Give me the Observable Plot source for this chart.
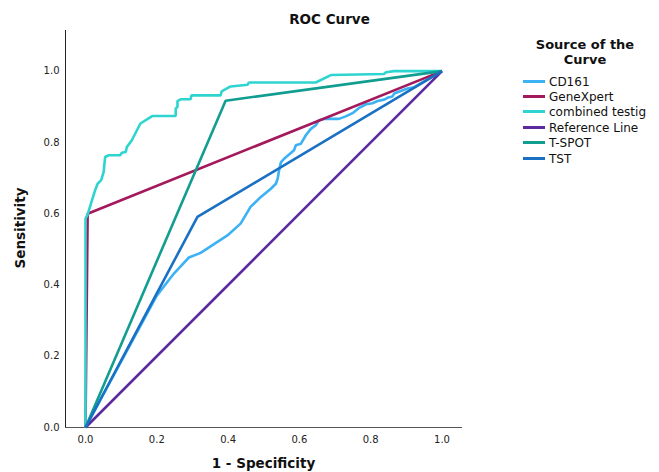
<!DOCTYPE html>
<html><head><meta charset="utf-8">
<script src="https://cdn.jsdelivr.net/npm/d3@7"></script>
<script src="https://cdn.jsdelivr.net/npm/@observablehq/plot@0.6"></script>
<style>
body{margin:0;background:#fff;font-family:"DejaVu Sans",sans-serif;}
#wrap{position:relative;width:659px;height:472px;overflow:hidden;background:#fff;}
#wrap svg{position:absolute;left:0;top:0;}
.t{position:absolute;color:#111;white-space:nowrap;}
#title{left:0;width:659px;top:11px;text-align:center;font-weight:bold;font-size:13.5px;line-height:16px;}
#xlab{left:65px;width:397px;top:455px;text-align:center;font-weight:bold;font-size:13.5px;line-height:16px;}
#ylab{left:-30px;width:100px;top:220px;text-align:center;font-weight:bold;font-size:13.5px;line-height:16px;transform:rotate(-90deg);}
#legtitle{left:505px;width:160px;top:37px;text-align:center;font-weight:bold;font-size:13px;line-height:15px;}
.leg{position:absolute;left:523px;height:15px;font-size:12px;line-height:15px;color:#111;white-space:nowrap;}
.leg span.sw{display:inline-block;width:22px;height:3px;vertical-align:middle;margin-right:4px;position:relative;top:-1px;}
</style></head><body><div id="wrap"></div>
<script>
const seriesNames = ["CD161","GeneXpert","combined testig","Reference Line","T-SPOT","TST"];
const seriesColors = ["#3cb2f4","#a3195b","#2ed5d0","#5a2a9e","#129d91","#1a70c2"];

const cd161FPR = [0,0.2,0.248,0.29,0.323,0.398,0.435,0.463,0.492,0.52,0.534,0.539,0.543,0.548,0.557,0.585,0.59,0.604,0.618,0.632,0.646,0.655,0.669,0.711,0.73,0.749,0.768,0.787,0.805,0.819,0.838,0.847,0.861,0.866,0.903,0.922,1];
const cd161TPR = [0,0.37,0.432,0.477,0.49,0.539,0.572,0.619,0.647,0.67,0.684,0.698,0.721,0.744,0.754,0.778,0.792,0.796,0.82,0.838,0.848,0.862,0.866,0.866,0.873,0.882,0.897,0.907,0.91,0.916,0.92,0.925,0.929,0.937,0.951,0.955,1];

const genexpertFPR = [0,0.006,1];
const genexpertTPR = [0,0.6,1];

const combinedFPR = [0,0,0.006,0.027,0.034,0.044,0.051,0.055,0.065,0.097,0.102,0.113,0.116,0.13,0.154,0.187,0.253,0.253,0.258,0.258,0.267,0.295,0.297,0.379,0.382,0.407,0.455,0.458,0.646,0.688,0.837,0.843,0.865,1];
const combinedTPR = [0,0.586,0.598,0.666,0.684,0.694,0.717,0.759,0.764,0.764,0.771,0.773,0.787,0.806,0.853,0.874,0.874,0.895,0.9,0.916,0.921,0.921,0.932,0.932,0.943,0.957,0.962,0.968,0.968,0.989,0.992,0.997,1,1];

const referenceFPR = [0,1];
const referenceTPR = [0,1];

const tspotFPR = [0,0.393,1];
const tspotTPR = [0,0.917,1];

const tstFPR = [0,0.314,1];
const tstTPR = [0,0.591,1];

const xTicks = [0,0.2,0.4,0.6,0.8,1.0];
const yTicks = [0,0.2,0.4,0.6,0.8,1.0];

const allFPR = [cd161FPR,genexpertFPR,combinedFPR,referenceFPR,tspotFPR,tstFPR];
const allTPR = [cd161TPR,genexpertTPR,combinedTPR,referenceTPR,tspotTPR,tstTPR];
const table = [];
seriesNames.forEach((s,i)=>{
  allFPR[i].forEach((fx,j)=>table.push({series:s, fpr:fx, tpr:allTPR[i][j], order:i}));
});

const xMin = -0.0561, xMax = 1.0575, yMin = 0, yMax = 1.114;

const chart = Plot.plot({
  width: 659, height: 472,
  marginLeft: 65, marginRight: 197, marginTop: 30, marginBottom: 45,
  style: {fontFamily: '"DejaVu Sans", sans-serif', fontSize: "10px", color: "#222", background: "transparent"},
  x: {domain: [xMin, xMax], label: null},
  y: {domain: [yMin, yMax], label: null},
  color: {domain: seriesNames, range: seriesColors},
  marks: [
    Plot.axisX({ticks: xTicks, tickSize: 0, tickPadding: 8, tickFormat: d3.format(".1f"), label: null, fontSize: 10}),
    Plot.axisY({ticks: yTicks, tickSize: 0, tickPadding: 6, tickFormat: d3.format(".1f"), label: null, fontSize: 10}),
    Plot.ruleX([xMin], {y1: yMin, y2: yMax, stroke: "#222", strokeWidth: 1}),
    Plot.ruleY([yMin], {x1: xMin, x2: xMax, stroke: "#555", strokeWidth: 1}),
    Plot.line(table, {x: "fpr", y: "tpr", z: "series", stroke: "series", strokeWidth: 2.6, strokeLinejoin: "miter", strokeLinecap: "butt", curve: "linear"})
  ]
});

const wrap = document.getElementById("wrap");
wrap.appendChild(chart);

function addText(id, html){
  const d = document.createElement("div");
  d.className = "t"; d.id = id; d.innerHTML = html; wrap.appendChild(d);
}
addText("title", "ROC Curve");
addText("xlab", "1 - Specificity");
addText("ylab", "Sensitivity");
addText("legtitle", "Source of the<br>Curve");

seriesNames.forEach((s,i)=>{
  const row = document.createElement("div");
  row.className = "leg";
  row.style.top = (74.5 + i*15.4) + "px";
  const sw = document.createElement("span");
  sw.className = "sw"; sw.style.background = seriesColors[i];
  row.appendChild(sw);
  row.appendChild(document.createTextNode(s));
  wrap.appendChild(row);
});
</script>
</body></html>
